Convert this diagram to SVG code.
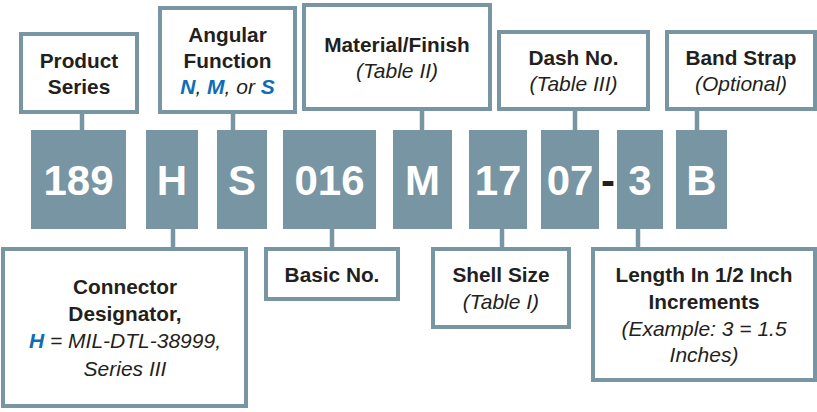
<svg xmlns="http://www.w3.org/2000/svg" width="817" height="412" viewBox="0 0 817 412">
<style>
.box{fill:#fff;stroke:#7795a3;stroke-width:4}
.code{fill:#7795a3}
.ln{stroke:#7795a3;stroke-width:4.5;fill:none}
.ct{font-family:"Liberation Sans",Arial,sans-serif;font-weight:bold;font-size:42px;fill:#fff;text-anchor:middle}
.b{font-family:"Liberation Sans",Arial,sans-serif;font-weight:bold;font-size:20.8px;fill:#231f20;text-anchor:middle}
.i{font-family:"Liberation Sans",Arial,sans-serif;font-style:italic;font-size:21px;fill:#231f20;text-anchor:middle}
.bl{fill:#0f6cb6;font-weight:bold}
</style>
<rect width="817" height="412" fill="#fff"/>
<g id="connectors">
<line class="ln" x1="82" y1="112" x2="82" y2="131"/>
<line class="ln" x1="233" y1="112" x2="233" y2="131"/>
<line class="ln" x1="422" y1="109" x2="422" y2="131"/>
<line class="ln" x1="575" y1="109" x2="575" y2="131"/>
<line class="ln" x1="697" y1="109" x2="697" y2="131"/>
<line class="ln" x1="173" y1="228" x2="173" y2="249"/>
<line class="ln" x1="332" y1="228" x2="332" y2="249"/>
<line class="ln" x1="502" y1="228" x2="502" y2="249"/>
<line class="ln" x1="638" y1="228" x2="638" y2="249"/>
</g>
<g id="code-189"><rect class="code" x="31" y="130" width="95" height="99"/><text class="ct" x="78.5" y="195">189</text></g>
<g id="code-H"><rect class="code" x="146" y="130" width="52" height="99"/><text class="ct" x="172" y="195">H</text></g>
<g id="code-S"><rect class="code" x="217" y="130" width="50" height="99"/><text class="ct" x="242" y="195">S</text></g>
<g id="code-016"><rect class="code" x="283" y="130" width="93" height="99"/><text class="ct" x="329.5" y="195">016</text></g>
<g id="code-M"><rect class="code" x="393" y="130" width="59" height="99"/><text class="ct" x="422.5" y="195">M</text></g>
<g id="code-17"><rect class="code" x="469" y="130" width="58" height="99"/><text class="ct" x="498" y="195">17</text></g>
<g id="code-07"><rect class="code" x="541" y="130" width="58" height="99"/><text class="ct" x="570" y="195">07</text></g>
<g id="dash"><text class="ct" x="608" y="195" style="fill:#231f20">-</text></g>
<g id="code-3"><rect class="code" x="617" y="130" width="46" height="99"/><text class="ct" x="640" y="195">3</text></g>
<g id="code-B"><rect class="code" x="676" y="130" width="51" height="99"/><text class="ct" x="701.5" y="195">B</text></g>

<g id="product-series"><rect class="box" x="21" y="34" width="116" height="78"/>
<text class="b" x="79" y="68">Product</text><text class="b" x="79" y="94">Series</text></g>
<g id="angular-function"><rect class="box" x="160" y="8" width="135" height="104"/>
<text class="b" x="227.5" y="42">Angular</text><text class="b" x="227.5" y="68">Function</text>
<text class="i" x="227.5" y="94"><tspan class="bl">N</tspan>, <tspan class="bl">M</tspan>, or <tspan class="bl">S</tspan></text></g>
<g id="material-finish"><rect class="box" x="304" y="5" width="186" height="104"/>
<text class="b" x="397" y="52">Material/Finish</text><text class="i" x="397" y="78">(Table II)</text></g>
<g id="dash-no"><rect class="box" x="499" y="32" width="149" height="77"/>
<text class="b" x="573.5" y="65">Dash No.</text><text class="i" x="573.5" y="91">(Table III)</text></g>
<g id="band-strap"><rect class="box" x="667" y="32" width="148" height="77"/>
<text class="b" x="741" y="65">Band Strap</text><text class="i" x="741" y="91">(Optional)</text></g>

<g id="connector-designator"><rect class="box" x="3" y="249" width="243" height="157"/>
<text class="b" x="125" y="294">Connector</text><text class="b" x="125" y="321">Designator,</text>
<text class="i" x="125" y="348"><tspan class="bl">H</tspan> = MIL-DTL-38999,</text><text class="i" x="125" y="376">Series III</text></g>
<g id="basic-no"><rect class="box" x="266" y="249" width="132" height="50"/>
<text class="b" x="332" y="282">Basic No.</text></g>
<g id="shell-size"><rect class="box" x="433" y="249" width="136" height="78"/>
<text class="b" x="501" y="282">Shell Size</text><text class="i" x="501" y="309">(Table I)</text></g>
<g id="length"><rect class="box" x="593" y="249" width="222" height="131"/>
<text class="b" x="704" y="282">Length In 1/2 Inch</text><text class="b" x="704" y="309">Increments</text>
<text class="i" x="704" y="336">(Example: 3 = 1.5</text><text class="i" x="704" y="362">Inches)</text></g>
</svg>
